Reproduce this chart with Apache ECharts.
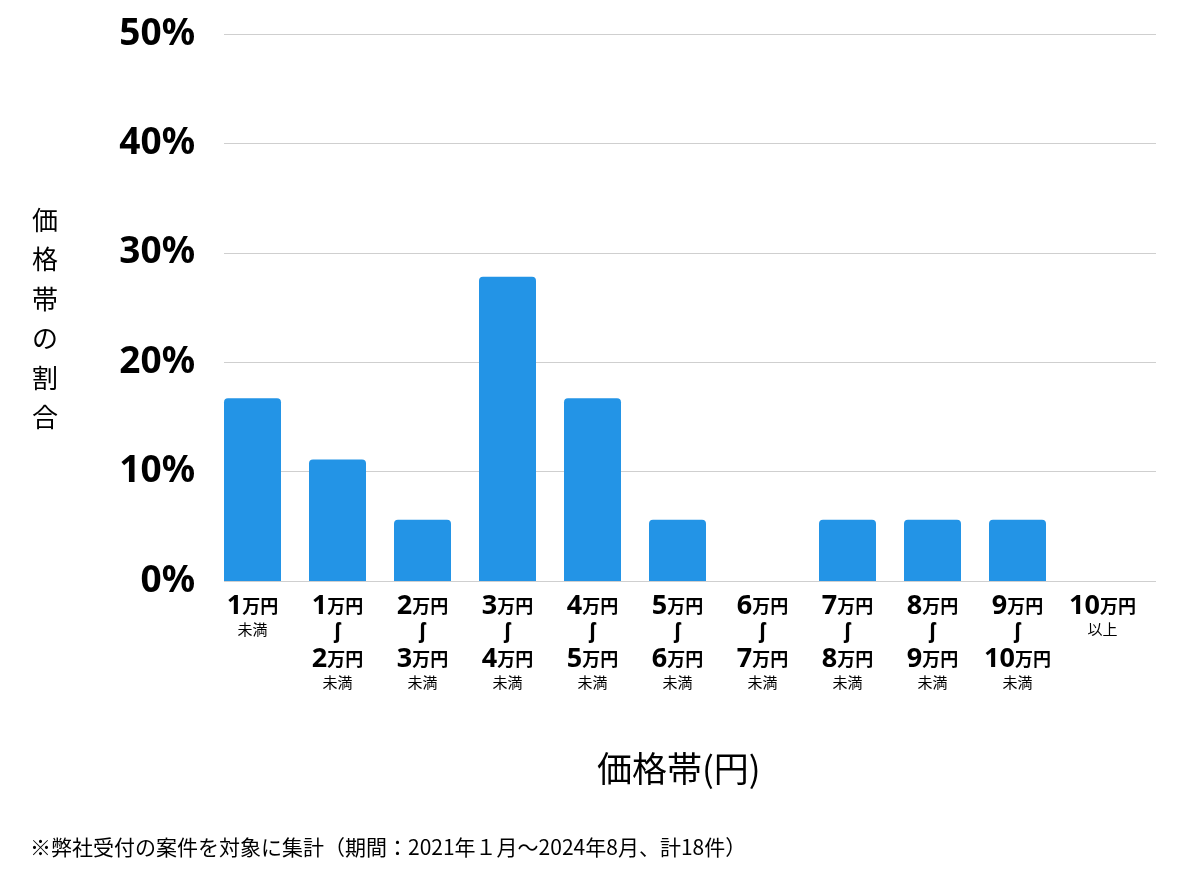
<!DOCTYPE html>
<html>
<head>
<meta charset="utf-8">
<script src="https://cdn.jsdelivr.net/npm/echarts@6/dist/echarts.min.js"></script>
<style>
  html, body { margin: 0; padding: 0; background: #fff; }
  #chart { width: 1200px; height: 874px; }
</style>
</head>
<body>
<div id="chart"></div>
<script>
// price bands: [from, to, suffix]
const bandFrom = ["", "1", "2", "3", "4", "5", "6", "7", "8", "9", "10"];
const bandTo = ["1", "2", "3", "4", "5", "6", "7", "8", "9", "10", ""];
const shares = [16.7, 11.1, 5.6, 27.8, 16.7, 5.6, 0, 5.6, 5.6, 5.6, 0];
const yTicks = [0, 10, 20, 30, 40, 50];
const yAxisTitle = "価格帯の割合";
const xAxisTitle = "価格帯(円)";
const footnote = "※弊社受付の案件を対象に集計（期間：2021年１月〜2024年8月、計18件）";

const categories = bandFrom.map((f, i) => i);

const FONT = '"Noto Sans CJK JP", "Noto Sans", sans-serif';
const NUM_FONT = '"Noto Sans", "Noto Sans CJK JP", sans-serif';

function bandLabel(i) {
  const f = bandFrom[i], t = bandTo[i];
  if (!f) return `{n|${t}}{u|万円}\n{s|未満}`;
  if (!t) return `{n|${f}}{u|万円}\n{s|以上}`;
  return `{n|${f}}{u|万円}\n{w|ʃ}\n{n|${t}}{u|万円}\n{s|未満}`;
}

const chart = echarts.init(document.getElementById("chart"));

const option = {
  animation: false,
  textStyle: { fontFamily: FONT },
  grid: [
    // grid for gridlines and y labels
    { left: 224, right: 44, top: 34, bottom: 293 },
    // grid for bars
    { left: 210, right: 55, top: 34, bottom: 293 }
  ],
  xAxis: [
    {
      gridIndex: 0, type: "category", data: categories, show: false
    },
    {
      gridIndex: 1,
      type: "category",
      data: categories,
      axisLine: { show: false },
      axisTick: { show: false },
      axisLabel: {
        interval: 0,
        margin: 12,
        align: "center",
        verticalAlign: "top",
        formatter: (v, i) => bandLabel(i),
        rich: {
          n: { fontSize: 27, fontWeight: "bold", color: "#000", lineHeight: 26, fontFamily: NUM_FONT },
          u: { fontSize: 18, fontWeight: "bold", color: "#000", lineHeight: 26, fontFamily: FONT },
          w: { fontSize: 21, fontWeight: "bold", color: "#000", lineHeight: 27, fontFamily: NUM_FONT },
          s: { fontSize: 15, color: "#000", lineHeight: 20, fontFamily: FONT }
        }
      }
    }
  ],
  yAxis: [
    {
      gridIndex: 0,
      type: "value",
      min: yTicks[0],
      max: yTicks[yTicks.length - 1],
      interval: 10,
      axisLine: { show: false },
      axisTick: { show: false },
      splitLine: { lineStyle: { color: "#cfcfcf", width: 1 } },
      axisLabel: {
        margin: 29,
        formatter: "{value}%",
        fontSize: 37,
        fontWeight: "bold",
        color: "#000",
        fontFamily: NUM_FONT
      }
    },
    {
      gridIndex: 1,
      type: "value",
      min: yTicks[0],
      max: yTicks[yTicks.length - 1],
      interval: 10,
      show: false
    }
  ],
  series: [
    {
      type: "bar",
      xAxisIndex: 1,
      yAxisIndex: 1,
      data: shares,
      barWidth: 57,
      itemStyle: { color: "#2394e6", borderRadius: [4, 4, 0, 0] },
      z: 3
    }
  ],
  graphic: [
    {
      type: "text",
      left: 32,
      top: 200,
      style: {
        text: yAxisTitle.split("").join("\n"),
        fontSize: 26,
        lineHeight: 39.5,
        fill: "#000",
        fontFamily: FONT,
        align: "center"
      }
    },
    {
      type: "text",
      left: 597,
      top: 751,
      style: {
        text: xAxisTitle,
        fontSize: 35,
        fill: "#000",
        fontFamily: FONT
      }
    },
    {
      type: "text",
      left: 30,
      top: 837,
      style: {
        text: footnote,
        fontSize: 21,
        fill: "#000",
        fontFamily: FONT
      }
    }
  ]
};

chart.setOption(option);
window.addEventListener("resize", () => chart.resize());
</script>
</body>
</html>
